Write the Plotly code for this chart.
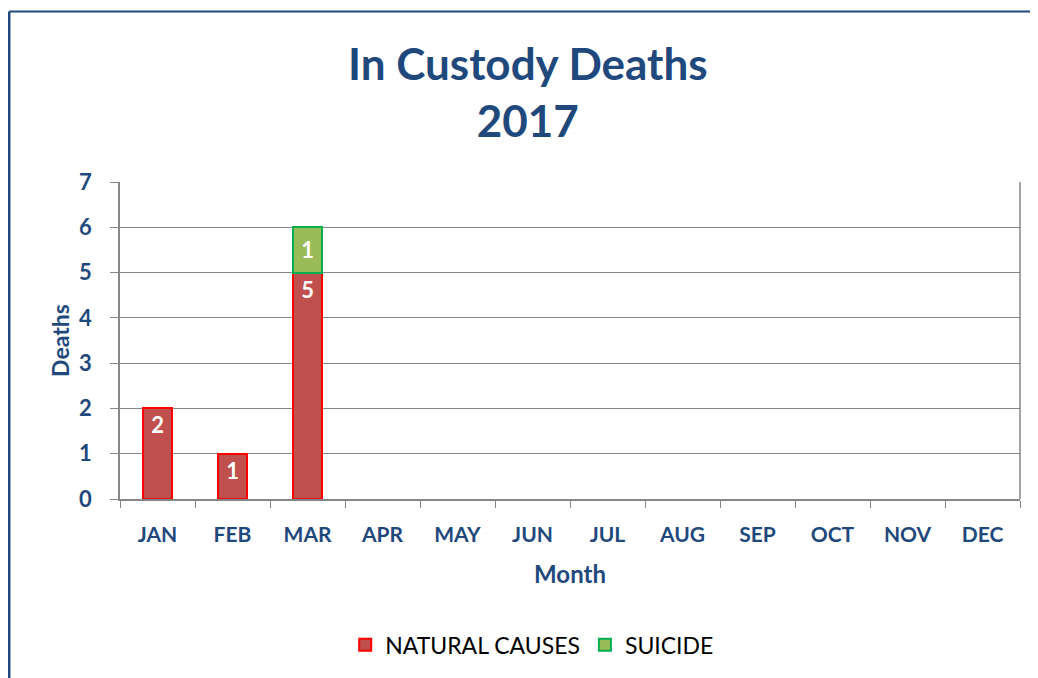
import plotly.graph_objects as go

months = ["JAN", "FEB", "MAR", "APR", "MAY", "JUN", "JUL", "AUG", "SEP", "OCT", "NOV", "DEC"]
natural_causes = [2, 1, 5, None, None, None, None, None, None, None, None, None]
suicide = [None, None, 1, None, None, None, None, None, None, None, None, None]
y_ticks = [0, 1, 2, 3, 4, 5, 6, 7]

BLUE = "#1F497D"
GRID = "#868686"
FONT = "Lato"

fig = go.Figure()
fig.add_trace(go.Bar(
    x=months, y=natural_causes, name="NATURAL CAUSES",
    marker=dict(color="#C0504D", line=dict(color="#FF0000", width=2)),
    texttemplate="<b>%{y}</b>", textposition="inside",
    insidetextanchor="end",
    textfont=dict(color="white", size=22, family=FONT),
))
fig.add_trace(go.Bar(
    x=months, y=suicide, name="SUICIDE",
    marker=dict(color="#9BBB59", line=dict(color="#00B050", width=2)),
    texttemplate="%{y}", textposition="inside",
    insidetextanchor="middle",
    textfont=dict(color="white", size=22, family=FONT),
))

fig.update_layout(
    width=1038, height=678,
    barmode="stack", bargap=0.61,
    paper_bgcolor="white", plot_bgcolor="white",
    margin=dict(l=112, r=26, t=174, b=187),
    font=dict(family=FONT, color=BLUE),
    showlegend=True,
    legend=dict(orientation="h", x=0.458, xanchor="center", y=-0.392, yanchor="top",
                font=dict(size=23, color="black", family=FONT), traceorder="normal",
                itemwidth=30),
    uniformtext=dict(minsize=10, mode="show"),
)
fig.add_annotation(text="<b>In Custody Deaths<br>2017</b>", xref="paper", yref="paper",
                   x=0.4535, y=1.2855, xanchor="center", yanchor="middle", showarrow=False,
                   font=dict(size=44, color=BLUE, family=FONT))
fig.update_xaxes(
    type="category", tickson="boundaries", ticks="outside", ticklen=7,
    tickcolor=GRID, showline=True, linecolor=GRID, linewidth=1.5,
    tickvals=months, ticktext=["<b>%s</b>" % m for m in months],
    tickfont=dict(size=21, color=BLUE, family=FONT), ticklabelstandoff=16,
    title=dict(text="<b>Month</b>", font=dict(size=24, color=BLUE, family=FONT), standoff=21),
    showgrid=False,
)
fig.update_yaxes(
    range=[0, 7], tickvals=y_ticks, ticktext=["<b>%d</b>" % v for v in y_ticks],
    ticks="outside", ticklen=8, tickcolor=GRID,
    showline=True, linecolor=GRID, linewidth=1.5, showgrid=True,
    gridcolor=GRID, gridwidth=1, zeroline=False,
    tickfont=dict(size=22, color=BLUE, family=FONT), ticklabelstandoff=14,
    title=dict(text="<b>Deaths</b>", font=dict(size=23, color=BLUE, family=FONT), standoff=3),
)
# right border of plot area
fig.add_shape(type="line", xref="paper", yref="paper", x0=1, x1=1, y0=0, y1=1,
              line=dict(color=GRID, width=1.5))
# outer chart frame (top and left edges)
fig.add_shape(type="line", xref="paper", yref="paper", x0=-0.1231, x1=1.2, y0=1.5379, y1=1.5379,
              line=dict(color=BLUE, width=2))
fig.add_shape(type="line", xref="paper", yref="paper", x0=-0.1231, x1=-0.1231, y0=-0.65, y1=1.5379,
              line=dict(color=BLUE, width=2.5))

fig.write_html("out.html")
